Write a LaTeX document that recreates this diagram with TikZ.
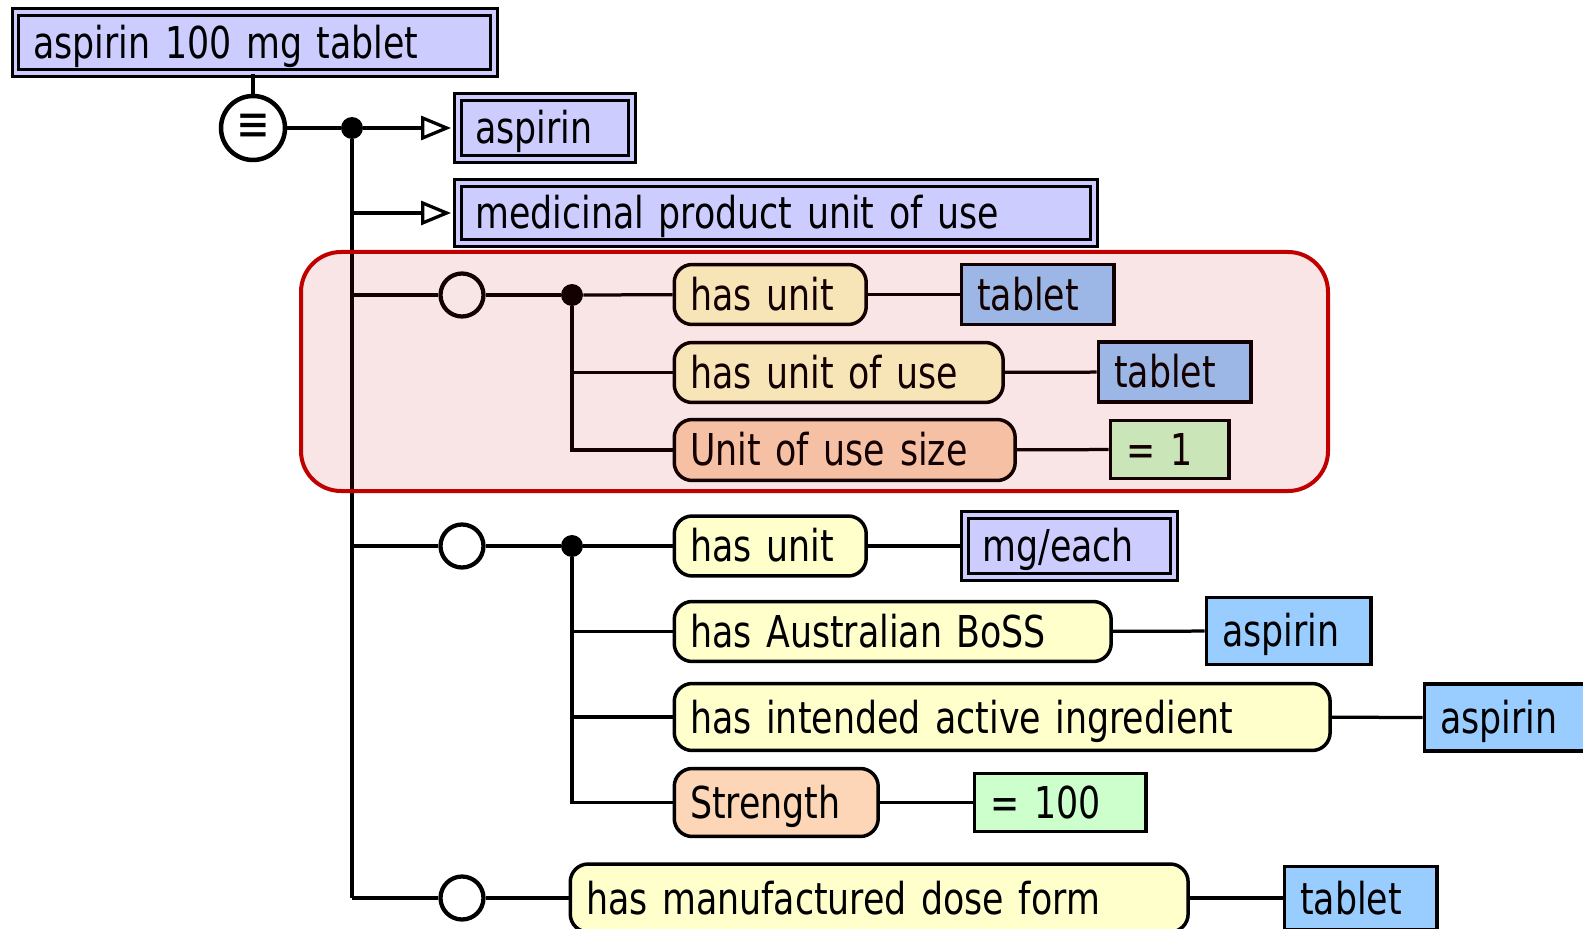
\documentclass[tikz,border=0pt]{standalone}
\usepackage{fontspec}
\setmainfont[FakeStretch=0.88,WordSpace=0.75]{DejaVu Sans Condensed}
\usetikzlibrary{shapes.geometric,arrows.meta}
\definecolor{conceptblue}{RGB}{204,204,255}
\definecolor{attryellow}{RGB}{255,255,204}
\definecolor{numattr}{RGB}{252,214,182}
\definecolor{valblue}{RGB}{153,204,255}
\definecolor{numgreen}{RGB}{204,255,204}
\definecolor{groupred}{RGB}{192,0,0}
\tikzset{
  every node/.style={font=\fontsize{25}{28}\selectfont},
  conn/.style={line width=0.065cm},
  isa/.style={-{Triangle[open,length=0.6cm,width=0.48cm]},shorten >=0.1cm},
  box/.style={draw,line width=0.07cm,anchor=west,inner xsep=0.32cm,align=left,
    text height=0.64cm,text depth=0pt,minimum height=1.2cm},
  concept/.style={box,fill=conceptblue,double=conceptblue,double distance=0.08cm,line width=0.06cm,inner xsep=0.36cm},
  attr/.style={box,fill=attryellow,rounded corners=0.36cm},
  numattr/.style={attr,fill=numattr},
  val/.style={box,fill=valblue},
  numval/.style={box,fill=numgreen},
  equiv/.style={draw,circle,line width=0.09cm,minimum size=1.28cm,inner sep=0pt,fill=white,
    font=\fontsize{29}{29}\selectfont},
  group/.style={draw,circle,line width=0.085cm,minimum size=0.86cm,inner sep=0pt,fill=white},
  dot/.style={circle,fill=black,minimum size=0.44cm,inner sep=0pt},
  grouphl/.style={draw=groupred,line width=0.08cm,fill=groupred,fill opacity=0.1,rounded corners=0.8cm}
}
\begin{document}
\begin{tikzpicture}[x=0.02cm,y=-0.02cm]
\clip (0,0) rectangle (1583,929);
\node[concept,text width=8.86cm,minimum height=1.22cm] (prod) at (14,42.5) {aspirin 100 mg tablet};
\node[equiv] (eq) at (253,128) {≡};
\node[dot] (d0) at (352,128) {};
\node[concept,text width=2.78cm,minimum height=1.24cm] (asp0) at (456,128) {aspirin};
\node[concept,text width=12.02cm] (mpuu) at (456,213) {medicinal product unit of use};

\node[group] (g1) at (462,295) {};
\node[dot] (d1) at (572,295) {};
\node[attr,text width=3.2cm] (hu1) at (672.5,294.5) {has unit};
\node[val,text width=2.42cm] (tab1) at (959.5,294.5) {tablet};
\node[attr,text width=5.94cm] (huu) at (672.5,372.5) {has unit of use};
\node[val,text width=2.42cm] (tab2) at (1096.5,372) {tablet};
\node[numattr,text width=6.18cm,minimum height=1.22cm] (uus) at (672.5,450) {Unit of use size};
\node[numval,text width=1.74cm,minimum height=1.16cm] (one) at (1108.5,449.5) {= 1};

\node[group] (g2) at (462,546) {};
\node[dot] (d2) at (572,546) {};
\node[attr,text width=3.2cm] (hu2) at (672.5,546) {has unit};
\node[concept,text width=3.48cm,minimum height=1.24cm] (mge) at (963,546) {mg/each};
\node[attr,text width=8.1cm] (boss) at (672.5,631.5) {has Australian BoSS};
\node[val,text width=2.66cm,minimum height=1.34cm] (asp1) at (1204.5,631) {aspirin};
\node[attr,text width=12.48cm,minimum height=1.34cm] (hiai) at (672.5,717) {has intended active ingredient};
\node[val,text width=2.66cm,minimum height=1.34cm] (asp2) at (1422.5,717.5) {aspirin};
\node[numattr,text width=3.44cm,minimum height=1.36cm] (str) at (672.5,802.5) {Strength};
\node[numval,text width=2.8cm,minimum height=1.16cm] (hundred) at (972.5,802.5) {= 100};

\node[group] (g3) at (462,898) {};
\node[attr,text width=11.72cm,minimum height=1.36cm] (hmdf) at (568.5,898) {has manufactured dose form};
\node[val,text width=2.42cm,minimum height=1.26cm] (tab3) at (1282.5,898) {tablet};

\path[conn]
  (eq) edge (eq |- prod.south)
  (eq) edge (d0)
  (d0) edge[isa] (asp0)
  (d0 |- mpuu) edge[isa] (mpuu)
  (d0) edge (d0 |- g3)
  (d0 |- g1) edge (g1)
  (g1) edge (d1)
  (d1) edge (hu1)
  (hu1) edge (tab1)
  (huu) edge (tab2)
  (uus) edge (one)
  (d0 |- g2) edge (g2)
  (g2) edge (d2)
  (d2) edge (hu2)
  (hu2) edge (mge)
  (boss) edge (asp1)
  (hiai) edge (asp2)
  (str) edge (hundred)
  (d0 |- g3) edge (g3)
  (g3) edge (hmdf)
  (hmdf) edge (tab3);
\draw[conn] (d1) |- (huu) (d1) |- (uus);
\draw[conn] (d2) |- (boss) (d2) |- (hiai) (d2) |- (str);

\draw[grouphl] (301,252) rectangle (1328,491);
\end{tikzpicture}
\end{document}
